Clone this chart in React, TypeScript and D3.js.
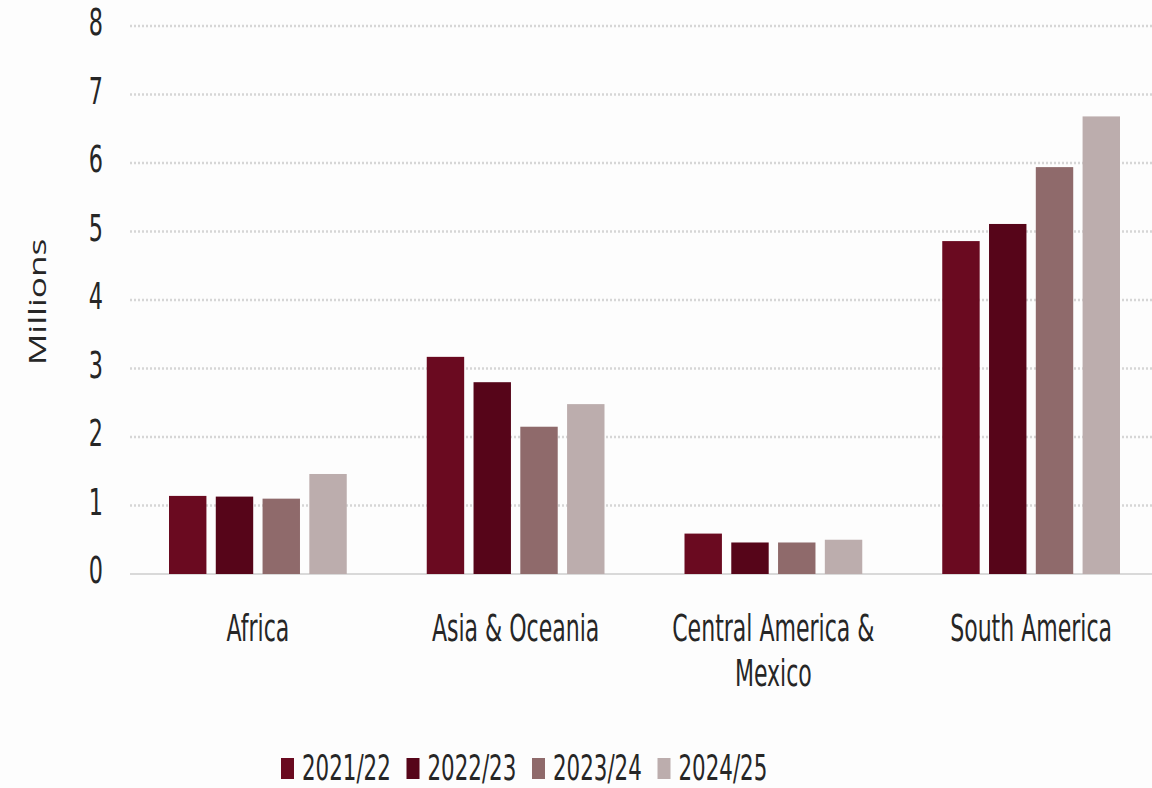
import React from "react";
import * as d3 from "d3";

const categories = ["Africa", "Asia & Oceania", "Central America & Mexico", "South America"];
const categoryLines = [["Africa"], ["Asia & Oceania"], ["Central America &", "Mexico"], ["South America"]];
const seriesNames = ["2021/22", "2022/23", "2023/24", "2024/25"];
const s2021 = [1.14, 3.17, 0.59, 4.86];
const s2022 = [1.13, 2.8, 0.46, 5.11];
const s2023 = [1.1, 2.15, 0.46, 5.94];
const s2024 = [1.46, 2.48, 0.5, 6.68];
const seriesValues = [s2021, s2022, s2023, s2024];
const colors = ["#6a0a20", "#560519", "#8f6a6b", "#bcadad"];
const yTicks = [0, 1, 2, 3, 4, 5, 6, 7, 8];

const W = 1152;
const H = 788;
const FONT = "'Liberation Sans Narrow', 'Arial Narrow', 'DejaVu Sans Condensed', sans-serif";

export default function App() {
  const x0 = d3.scaleBand<string>().domain(categories).range([129, 1160]).paddingInner(0).paddingOuter(0);
  const x1 = d3.scaleBand<string>().domain(seriesNames).range([40, x0.bandwidth() - 40]).paddingInner(0.2);
  const y = d3.scaleLinear().domain([0, 8]).range([574, 26]);

  return (
    <svg width={W} height={H} style={{ position: "absolute", left: 0, top: 0, background: "#fff" }}>
      <rect x={0} y={0} width={W} height={H} fill="#fdfdfd" />
      {yTicks.slice(1).map((t) => (
        <line key={t} x1={130} x2={W} y1={y(t)} y2={y(t)} stroke="#d6d6d6" strokeWidth={2.5} strokeDasharray="2,2" />
      ))}
      <line x1={130} x2={W} y1={y(0)} y2={y(0)} stroke="#d9d9d9" strokeWidth={2} />
      {yTicks.map((t) => (
        <text key={t} transform={`translate(103,${y(t) + 9}) scale(0.92,1.38)`} textAnchor="end" fontFamily={FONT} fontSize={27} fill="#262626">
          {t}
        </text>
      ))}
      <text transform={`translate(46,302) rotate(-90) scale(1.53,1)`} textAnchor="middle" fontFamily="'Open Sans', sans-serif" fontSize={23} fill="#262626">
        Millions
      </text>
      {categories.map((c, ci) => (
        <g key={c}>
          {seriesNames.map((s, si) => {
            const v = seriesValues[si][ci];
            return (
              <rect key={s} x={(x0(c) as number) + (x1(s) as number)} y={y(v)} width={x1.bandwidth()} height={y(0) - y(v)} fill={colors[si]} />
            );
          })}
          {categoryLines[ci].map((line, li) => (
            <text key={li} transform={`translate(${(x0(c) as number) + x0.bandwidth() / 2},${641 + li * 45}) scale(0.845,1.28)`} textAnchor="middle" fontFamily={FONT} fontSize={29} fill="#262626">
              {line}
            </text>
          ))}
        </g>
      ))}
      {seriesNames.map((s, si) => {
        const lx = 281 + si * 125.5;
        return (
          <g key={s}>
            <rect x={lx} y={758} width={13} height={21} fill={colors[si]} />
            <text transform={`translate(${lx + 21},780) scale(0.82,1.22)`} fontFamily={FONT} fontSize={29} fill="#262626">
              {s}
            </text>
          </g>
        );
      })}
    </svg>
  );
}
